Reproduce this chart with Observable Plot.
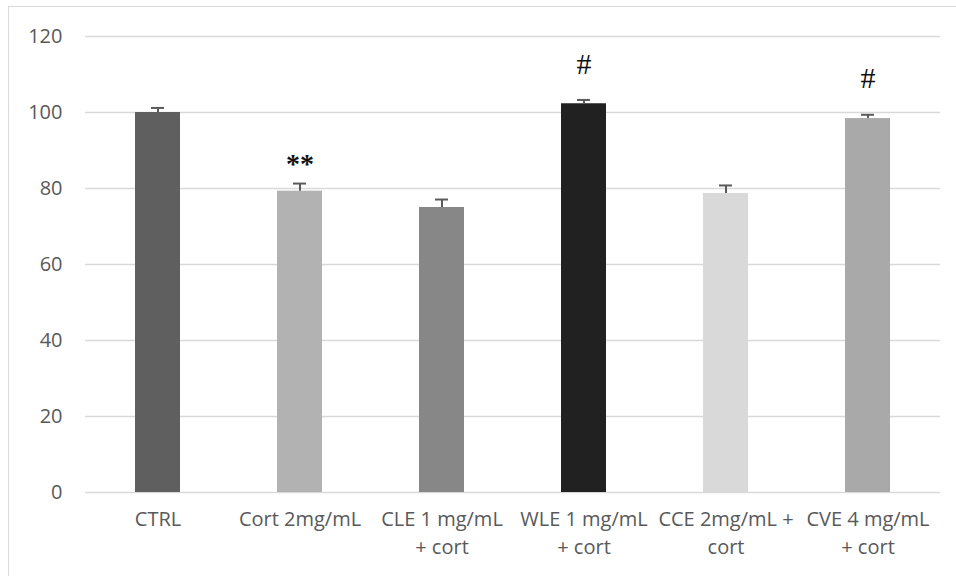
<!DOCTYPE html>
<html>
<head>
<meta charset="utf-8">
<script src="https://cdn.jsdelivr.net/npm/d3@7"></script>
<script src="https://cdn.jsdelivr.net/npm/@observablehq/plot@0.6"></script>
<style>
  html, body { margin: 0; padding: 0; background: #fff; overflow: hidden; }
  #wrap { position: relative; width: 956px; height: 576px; }
  #border { position: absolute; left: 8px; top: 6px; width: 1000px; height: 600px;
            border: 1.5px solid #d9d9d9; box-sizing: border-box; }
  #chart { position: absolute; left: 0; top: 0; }
</style>
</head>
<body>
<div id="wrap"><div id="border"></div><div id="chart"></div></div>
<script>
const categories = ["CTRL", "Cort 2mg/mL", "CLE 1 mg/mL + cort", "WLE 1 mg/mL + cort", "CCE 2mg/mL + cort", "CVE 4 mg/mL + cort"];
const tickLabels = ["CTRL", "Cort 2mg/mL", "CLE 1 mg/mL\n+ cort", "WLE 1 mg/mL\n+ cort", "CCE 2mg/mL +\ncort", "CVE 4 mg/mL\n+ cort"];
const values = [100, 79.3, 75, 102.3, 78.7, 98.4];
const errors = [1.2, 2.0, 2.1, 1.0, 2.1, 1.0];
const marks = ["", "**", "", "#", "", "#"];
const colors = ["#5f5f5f", "#b2b2b2", "#878787", "#212121", "#d9d9d9", "#a9a9a9"];
const yTicks = [0, 20, 40, 60, 80, 100, 120];

const data = categories.map((c, i) => ({
  cat: c, value: values[i], err: errors[i], mark: marks[i], color: colors[i], label: tickLabels[i]
}));
const labelOf = new Map(data.map(d => [d.cat, d.label]));

const plot = Plot.plot({
  width: 956,
  height: 576,
  marginLeft: 85,
  marginRight: 16,
  marginTop: 36,
  marginBottom: 84,
  style: { background: "transparent", fontFamily: "'Open Sans', sans-serif", color: "#595959" },
  x: { domain: categories, paddingInner: 0.684, paddingOuter: 0.342, label: null },
  y: { domain: [0, 120], label: null },
  marks: [
    Plot.gridY(yTicks, { stroke: "#d9d9d9", strokeOpacity: 1, strokeWidth: 1.5 }),
    Plot.axisY(yTicks, { tickSize: 0, tickPadding: 23, fontSize: 20, fill: "#595959", label: null }),
    Plot.axisX({ tickSize: 0, tickPadding: 14, fontSize: 20, fill: "#595959", lineHeight: 1.4,
                 tickFormat: d => labelOf.get(d), label: null }),
    Plot.barY(data, { x: "cat", y: "value", fill: "color" }),
    Plot.ruleX(data, { x: "cat", y1: "value", y2: d => d.value + d.err, stroke: "#5a5a5a", strokeWidth: 2 }),
    Plot.tickY(data, { x: "cat", y: d => d.value + d.err, stroke: "#5a5a5a", strokeWidth: 2, inset: 16 }),
    Plot.text(data.filter(d => d.mark === "**"), {
      x: "cat", y: d => d.value + d.err, text: "mark",
      fontFamily: "'Liberation Serif', serif", fontWeight: "bold", fontSize: 28, fill: "#111",
      dy: -20
    }),
    Plot.text(data.filter(d => d.mark === "#"), {
      x: "cat", y: d => d.value + d.err, text: "mark",
      fontFamily: "'Liberation Serif', serif", fontSize: 30, fill: "#111",
      dy: -36
    })
  ]
});
document.getElementById("chart").appendChild(plot);
</script>
</body>
</html>
